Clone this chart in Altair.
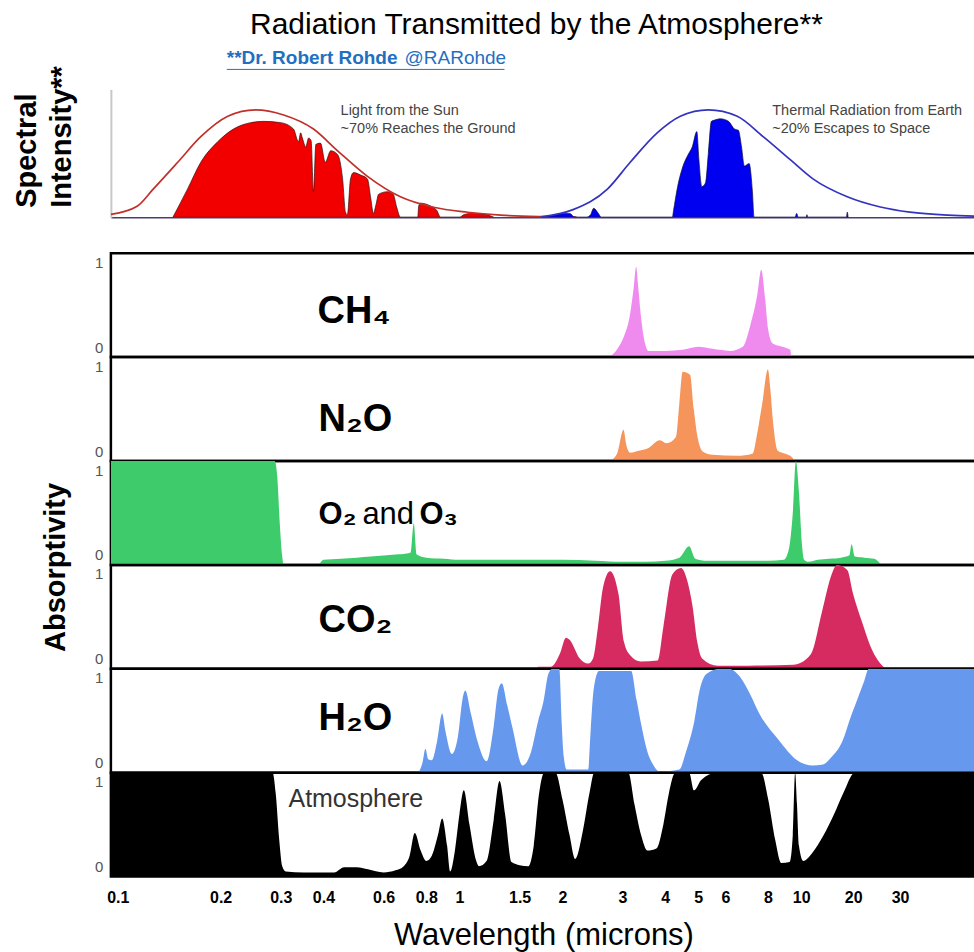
import altair as alt
import pandas as pd

# ---------------- data (wavelength in microns, value 0..1) ----------------
TITLE_TEXT = "Radiation Transmitted by the Atmosphere**"
CREDIT_NAME = "**Dr. Robert Rohde"
CREDIT_HANDLE = "@RARohde"

X_TICKS = [0.1, 0.2, 0.3, 0.4, 0.6, 0.8, 1, 1.5, 2, 3, 4, 5, 6, 8, 10, 20, 30]

SUN_NOTE = ["Light from the Sun", "~70% Reaches the Ground"]
EARTH_NOTE = ["Thermal Radiation from Earth", "~20% Escapes to Space"]

SUN_BLACKBODY = [(0.0955, 0.023), (0.114, 0.086), (0.127, 0.22), (0.1498, 0.43), (0.175, 0.63),
                 (0.21, 0.79), (0.253, 0.84), (0.306, 0.80), (0.374, 0.69), (0.44, 0.52),
                 (0.538, 0.32), (0.672, 0.16), (0.84, 0.078), (1.055, 0.039), (1.32, 0.016),
                 (1.73, 0.005), (2.2, 0.002)]

SUN_SURFACE = [(0.145, 0.0), (0.16, 0.22), (0.175, 0.43), (0.196, 0.59), (0.218, 0.69),
               (0.245, 0.74), (0.267, 0.75), (0.30, 0.74), (0.327, 0.69), (0.338, 0.59),
               (0.343, 0.66), (0.347, 0.62), (0.355, 0.55), (0.362, 0.62), (0.368, 0.60),
               (0.374, 0.20), (0.38, 0.57), (0.392, 0.58), (0.405, 0.43), (0.42, 0.52),
               (0.44, 0.49), (0.455, 0.30), (0.464, 0.04), (0.47, 0.02), (0.48, 0.30),
               (0.49, 0.35), (0.514, 0.33), (0.538, 0.30), (0.55, 0.15), (0.56, 0.03),
               (0.57, 0.10), (0.58, 0.18), (0.616, 0.20), (0.64, 0.18), (0.655, 0.08),
               (0.672, 0.0), (0.755, 0.0), (0.76, 0.09), (0.77, 0.11), (0.82, 0.09),
               (0.86, 0.05), (0.88, 0.0), (1.0, 0.0), (1.03, 0.02), (1.08, 0.03),
               (1.18, 0.025), (1.26, 0.0)]

EARTH_BLACKBODY = [(1.73, 0.003), (2.15, 0.06), (2.71, 0.22), (3.16, 0.43), (3.79, 0.66),
                   (4.43, 0.79), (5.35, 0.84), (6.5, 0.79), (7.74, 0.63), (9.29, 0.45),
                   (11.7, 0.30), (18.5, 0.16), (25.3, 0.08), (33.5, 0.04), (51.4, 0.016),
                   (70.0, 0.008)]

EARTH_SURFACE = [(1.75, 0.0), (1.9, 0.02), (2.0, 0.03), (2.1, 0.03), (2.18, 0.0), (2.35, 0.0),
                 (2.42, 0.02), (2.47, 0.07), (2.55, 0.03), (2.6, 0.0), (4.2, 0.0), (4.23, 0.05),
                 (4.35, 0.24), (4.51, 0.40), (4.67, 0.49), (4.8, 0.55), (4.95, 0.67), (5.02, 0.45),
                 (5.12, 0.24), (5.25, 0.27), (5.35, 0.50), (5.46, 0.75), (5.58, 0.76), (5.8, 0.77),
                 (6.13, 0.75), (6.38, 0.69), (6.55, 0.68), (6.69, 0.55), (6.82, 0.40), (7.04, 0.42),
                 (7.2, 0.20), (7.28, 0.0), (9.6, 0.0), (9.7, 0.03), (9.8, 0.0), (10.7, 0.0),
                 (10.8, 0.02), (10.9, 0.0), (18.3, 0.0), (18.5, 0.04), (18.7, 0.0)]

CH4 = [(2.75, 0.0), (2.9, 0.08), (3.03, 0.2), (3.16, 0.42), (3.23, 0.65), (3.29, 0.87),
       (3.33, 0.7), (3.39, 0.42), (3.5, 0.12), (3.57, 0.06), (4.0, 0.06), (4.5, 0.07),
       (5.0, 0.10), (5.5, 0.08), (6.2, 0.06), (6.75, 0.10), (7.09, 0.30), (7.44, 0.60),
       (7.64, 0.84), (7.85, 0.55), (8.0, 0.27), (8.26, 0.13), (8.8, 0.10), (9.29, 0.07),
       (9.35, 0.0)]

N2O = [(2.75, 0.0), (2.9, 0.08), (3.02, 0.30), (3.08, 0.15), (3.16, 0.08), (3.35, 0.10),
       (3.55, 0.12), (3.86, 0.20), (4.04, 0.17), (4.3, 0.23), (4.4, 0.55), (4.5, 0.86),
       (4.73, 0.83), (4.85, 0.50), (4.95, 0.27), (5.16, 0.09), (5.5, 0.06), (6.5, 0.05),
       (7.2, 0.07), (7.44, 0.27), (7.69, 0.55), (7.99, 0.88), (8.12, 0.70), (8.26, 0.40),
       (8.54, 0.10), (9.0, 0.07), (9.45, 0.03), (9.5, 0.0)]

O2_O3 = [(0.0955, 1.0), (0.288, 1.0), (0.293, 0.85), (0.298, 0.40), (0.303, 0.08), (0.306, 0.0),
         (0.385, 0.0), (0.4, 0.05), (0.45, 0.06), (0.5, 0.07), (0.55, 0.08), (0.6, 0.09),
         (0.65, 0.10), (0.7, 0.11), (0.72, 0.12), (0.735, 0.40), (0.75, 0.10), (0.8, 0.07),
         (0.9, 0.06), (1.0, 0.05), (1.3, 0.05), (1.6, 0.05), (2.0, 0.05), (2.5, 0.04),
         (3.0, 0.03), (3.5, 0.03), (4.0, 0.04), (4.4, 0.07), (4.7, 0.18), (4.9, 0.06),
         (5.3, 0.04), (6.0, 0.04), (7.0, 0.04), (8.0, 0.04), (8.9, 0.05), (9.2, 0.15),
         (9.45, 0.50), (9.65, 1.0), (9.85, 0.70), (10.1, 0.20), (10.4, 0.05), (11.0, 0.03),
         (12.5, 0.05), (14.5, 0.06), (17.0, 0.07), (19.0, 0.09), (19.6, 0.20), (20.3, 0.08),
         (22.0, 0.07), (24.0, 0.06), (25.5, 0.0)]

CO2 = [(1.67, 0.0), (1.7, 0.02), (1.85, 0.02), (1.97, 0.15), (2.05, 0.30), (2.1, 0.28),
       (2.25, 0.10), (2.38, 0.05), (2.46, 0.10), (2.54, 0.39), (2.63, 0.78), (2.76, 0.94),
       (2.92, 0.72), (3.03, 0.26), (3.16, 0.13), (3.39, 0.07), (3.8, 0.08), (3.95, 0.40),
       (4.2, 0.91), (4.45, 0.97), (4.64, 0.85), (4.81, 0.60), (4.97, 0.25), (5.13, 0.10),
       (5.7, 0.03), (7.0, 0.03), (9.5, 0.04), (10.8, 0.10), (11.6, 0.17), (13.2, 0.55),
       (15.1, 0.92), (16.1, 1.0), (18.5, 0.95), (20.0, 0.72), (21.6, 0.45), (23.2, 0.22),
       (24.8, 0.08), (26.5, 0.0)]

H2O = [(0.759, 0.0), (0.78, 0.10), (0.795, 0.23), (0.81, 0.13), (0.83, 0.12), (0.86, 0.30),
       (0.89, 0.57), (0.91, 0.40), (0.95, 0.18), (0.99, 0.35), (1.02, 0.70), (1.04, 0.79),
       (1.08, 0.57), (1.13, 0.30), (1.2, 0.11), (1.26, 0.45), (1.3, 0.80), (1.33, 0.86),
       (1.38, 0.65), (1.43, 0.43), (1.53, 0.07), (1.62, 0.20), (1.7, 0.50), (1.76, 0.68),
       (1.82, 0.95), (1.87, 1.0), (1.96, 1.0), (1.99, 0.50), (2.02, 0.15), (2.06, 0.03),
       (2.38, 0.03), (2.42, 0.40), (2.47, 0.80), (2.56, 0.98), (3.18, 0.98), (3.3, 0.70),
       (3.41, 0.45), (3.55, 0.20), (3.7, 0.07), (3.86, 0.01), (4.4, 0.03), (4.6, 0.20),
       (4.87, 0.50), (5.05, 0.80), (5.28, 0.95), (5.8, 1.0), (6.12, 1.0), (6.63, 0.92),
       (7.1, 0.75), (7.54, 0.57), (8.57, 0.32), (9.73, 0.12), (11.6, 0.07), (13.4, 0.08),
       (15.0, 0.15), (17.3, 0.30), (19.5, 0.55), (20.7, 0.70), (22.0, 0.88), (22.9, 1.0),
       (70.0, 1.0)]

ATMOSPHERE = [(0.0955, 1.0), (0.284, 1.0), (0.29, 0.80), (0.297, 0.35), (0.303, 0.10), (0.31, 0.05),
              (0.35, 0.04), (0.43, 0.04), (0.46, 0.09), (0.5, 0.09), (0.54, 0.07), (0.6, 0.04),
              (0.65, 0.06), (0.687, 0.10), (0.715, 0.20), (0.74, 0.42), (0.77, 0.25), (0.8, 0.15),
              (0.83, 0.20), (0.865, 0.40), (0.89, 0.56), (0.92, 0.30), (0.94, 0.05), (0.97, 0.25),
              (1.0, 0.60), (1.03, 0.83), (1.07, 0.50), (1.12, 0.15), (1.14, 0.10), (1.2, 0.15),
              (1.26, 0.55), (1.31, 0.92), (1.36, 0.60), (1.42, 0.14), (1.5, 0.11), (1.59, 0.10),
              (1.65, 0.30), (1.71, 0.80), (1.77, 1.0), (1.91, 1.0), (2.0, 0.75), (2.1, 0.40),
              (2.18, 0.17), (2.3, 0.45), (2.4, 0.80), (2.48, 1.0), (3.12, 1.0), (3.25, 0.70),
              (3.4, 0.40), (3.55, 0.25), (3.77, 0.27), (3.95, 0.50), (4.1, 0.80), (4.28, 1.0),
              (4.7, 1.0), (4.86, 0.83), (5.1, 0.93), (5.66, 1.0), (7.64, 1.0), (8.0, 0.75),
              (8.4, 0.35), (8.74, 0.13), (9.25, 0.14), (9.45, 0.40), (9.6, 1.0), (9.72, 0.70),
              (9.85, 0.30), (10.3, 0.15), (11.5, 0.22), (13.5, 0.40), (15.5, 0.60), (17.5, 0.80),
              (20.3, 1.0), (70.0, 1.0)]

# ---------------- layout / style ----------------
W = 866
TOP_H = 128
PANEL_H = 104
SANS = "Liberation Sans, Arial, sans-serif"
LINK = "#1f6fc2"

# piecewise log scale (the original compresses the range beyond 10 microns)
xs = alt.Scale(type="log", domain=[0.0955, 10, 20, 30, 70], range=[0, 691, 743, 790, W],
               nice=False, clamp=True)
ys = alt.Scale(domain=[0, 1], nice=False)


def pairs_df(pairs, col):
    return pd.DataFrame(pairs, columns=["wl", col])


# ---------------- top panel: spectral intensity ----------------
top_x_axis = alt.Axis(labels=False, ticks=False, grid=False, domainColor="#4b3f6e",
                      domainWidth=1.5, title=None)
top_y_axis = alt.Axis(labels=False, ticks=False, grid=False, domainColor="#c8c8c8", domainWidth=2,
                      title=["Spectral", "Intensity**"], titleFont=SANS, titleFontSize=29,
                      titleFontWeight="bold", titleColor="black", titleLineHeight=35,
                      titleX=-84, titleY=118, titleBaseline="middle", titleAlign="left")
tx = alt.X("wl:Q", scale=xs, axis=top_x_axis)
ty = alt.Y("v:Q", scale=ys, axis=top_y_axis)

sun_fill = alt.Chart(pairs_df(SUN_SURFACE, "v")).mark_area(
    fill="#f20000", stroke="#3a1010", strokeWidth=0.7, interpolate="monotone", clip=True
).encode(x=tx, y=ty)
sun_line = alt.Chart(pairs_df(SUN_BLACKBODY, "v")).mark_line(
    color="#c0302a", strokeWidth=1.7, interpolate="monotone", clip=True
).encode(x=tx, y=ty)
earth_fill = alt.Chart(pairs_df(EARTH_SURFACE, "v")).mark_area(
    fill="#0000f0", stroke="#101040", strokeWidth=0.7, interpolate="monotone", clip=True
).encode(x=tx, y=ty)
earth_line = alt.Chart(pairs_df(EARTH_BLACKBODY, "v")).mark_line(
    color="#3333c0", strokeWidth=1.7, interpolate="monotone", clip=True
).encode(x=tx, y=ty)

notes_df = pd.DataFrame({
    "wl": [0.449, 0.449, 8.23, 8.23],
    "v": [0.83, 0.69, 0.83, 0.69],
    "t": SUN_NOTE + EARTH_NOTE,
})
notes = alt.Chart(notes_df).mark_text(
    align="left", baseline="middle", font=SANS, fontSize=14.5, color="#444444"
).encode(x=tx, y=ty, text="t:N")

credit_df = pd.DataFrame({"t": [CREDIT_NAME], "h": [CREDIT_HANDLE]})
credit_name = alt.Chart(credit_df).mark_text(
    align="left", baseline="middle", font=SANS, fontSize=19, fontWeight="bold", color=LINK
).encode(x=alt.value(116), y=alt.value(-31), text="t:N")
credit_handle = alt.Chart(credit_df).mark_text(
    align="left", baseline="middle", font=SANS, fontSize=19, color=LINK
).encode(x=alt.value(294), y=alt.value(-31), text="h:N")
credit_line = alt.Chart(credit_df).mark_rule(color=LINK, strokeWidth=1).encode(
    x=alt.value(116), x2=alt.value(394), y=alt.value(-20)
)

top = alt.layer(sun_fill, sun_line, earth_fill, earth_line, notes,
                credit_name, credit_handle, credit_line).properties(
    width=W, height=TOP_H, view=alt.ViewBackground(stroke="transparent"))

# ---------------- absorption panels ----------------
bottom_x_axis = alt.Axis(values=X_TICKS, format="~g", ticks=False, domain=False, grid=False,
                         labelFont=SANS, labelFontWeight="bold", labelFontSize=16,
                         labelColor="black", labelPadding=13, labelFlush=False,
                         title="Wavelength (microns)", titleFont=SANS, titleFontSize=31,
                         titleFontWeight="normal", titleColor="black",
                         titleY=59, titleBaseline="middle", titleAlign="center")


def gas_panel(pairs, color, labels, x_axis=None, y_title=None):
    y_kw = dict(values=[0, 1], format="d", labelFlush=True, labelFlushOffset=-2, ticks=False,
                domain=False, grid=False, labelPadding=8, labelColor="#555555",
                labelFont=SANS, labelFontSize=15)
    if y_title:
        y_axis = alt.Axis(title=y_title, titleFont=SANS, titleFontSize=29, titleFontWeight="bold",
                          titleColor="black", titleX=-55, titleY=PANEL_H + 2,
                          titleBaseline="middle", titleAlign="center", **y_kw)
    else:
        y_axis = alt.Axis(title=None, **y_kw)
    xe = alt.X("wl:Q", scale=xs, axis=x_axis)
    ye = alt.Y("a:Q", scale=ys, axis=y_axis)
    layers = [alt.Chart(pairs_df(pairs, "a")).mark_area(
        fill=color, interpolate="monotone", clip=True).encode(x=xe, y=ye)]
    for wl, a, txt, weight, size, col in labels:
        ldf = pd.DataFrame({"wl": [wl], "a": [a], "t": [txt]})
        layers.append(alt.Chart(ldf).mark_text(
            align="left", baseline="middle", font=SANS, fontSize=size, fontWeight=weight, color=col
        ).encode(x=xe, y=ye, text="t:N"))
    return alt.layer(*layers).properties(width=W, height=PANEL_H)


p_ch4 = gas_panel(CH4, "#ef8bef", [(0.3845, 0.43, "CH₄", "bold", 38, "black")])
p_n2o = gas_panel(N2O, "#f5955b", [(0.387, 0.39, "N₂O", "bold", 38, "black")])
p_o2 = gas_panel(O2_O3, "#3ecb6b", [(0.387, 0.48, "O₂", "bold", 31, "black"),
                                    (0.520, 0.48, "and", "normal", 31, "black"),
                                    (0.764, 0.48, "O₃", "bold", 31, "black")],
                 y_title="Absorptivity")
p_co2 = gas_panel(CO2, "#d62b60", [(0.387, 0.46, "CO₂", "bold", 38, "black")])
p_h2o = gas_panel(H2O, "#6699ee", [(0.387, 0.52, "H₂O", "bold", 38, "black")])
p_atm = gas_panel(ATMOSPHERE, "#000000", [(0.316, 0.75, "Atmosphere", "normal", 25, "#333333")],
                  x_axis=bottom_x_axis)

bottom = alt.vconcat(p_ch4, p_n2o, p_o2, p_co2, p_h2o, p_atm, spacing=0,
                     bounds="flush").resolve_scale(x="independent", y="independent")

chart = alt.vconcat(top, bottom, spacing=32).resolve_scale(
    x="independent", y="independent"
).properties(
    title=alt.TitleParams(TITLE_TEXT, font=SANS, fontSize=30, fontWeight="normal",
                          color="black", anchor="middle", dx=42, offset=8),
    padding={"left": 11, "top": 9, "right": -4, "bottom": 0},
    background="white",
).configure_view(stroke="black", strokeWidth=2.5).configure_axis(grid=False)

chart.save("out.html", embed_options={"renderer": "svg", "actions": False})
